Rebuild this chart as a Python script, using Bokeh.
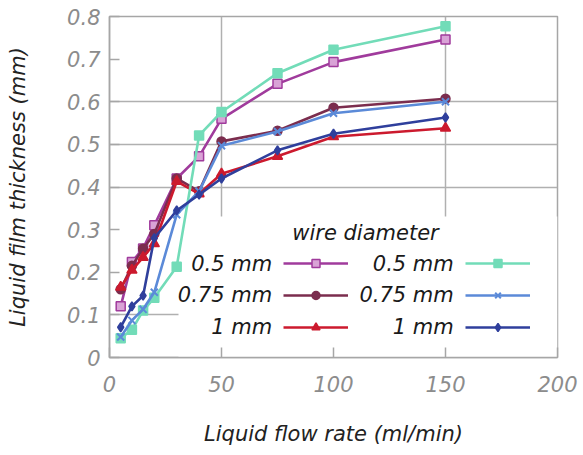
from bokeh.plotting import figure
from bokeh.models import Range1d, FixedTicker, Legend, LegendItem, Label, BoxAnnotation
from bokeh.embed import file_html
from bokeh.resources import INLINE

# ---- data ----
flow = [5, 10, 15, 20, 30, 40, 50, 75, 100, 150]
set1_05 = [0.12, 0.224, 0.256, 0.31, 0.42, 0.472, 0.56, 0.642, 0.693, 0.746]
set1_075 = [0.16, 0.215, 0.255, 0.29, 0.42, 0.39, 0.507, 0.532, 0.586, 0.607]
set1_1 = [0.165, 0.205, 0.235, 0.267, 0.413, 0.384, 0.431, 0.472, 0.518, 0.538]
set2_05 = [0.045, 0.065, 0.11, 0.14, 0.213, 0.521, 0.576, 0.667, 0.722, 0.777]
set2_075 = [0.048, 0.087, 0.113, 0.153, 0.335, 0.39, 0.497, 0.53, 0.573, 0.6]
set2_1 = [0.071, 0.12, 0.145, 0.28, 0.345, 0.382, 0.42, 0.486, 0.525, 0.563]

legend_labels = ["0.5 mm", "0.75 mm", "1 mm"]
legend_title = "wire diameter"
x_ticks = [0, 50, 100, 150, 200]
y_ticks = [0, 0.1, 0.2, 0.3, 0.4, 0.5, 0.6, 0.7, 0.8]
y_tick_labels = ["0", "0.1", "0.2", "0.3", "0.4", "0.5", "0.6", "0.7", "0.8"]

FONT = "DejaVu Sans"
GRAY = "#a6a6a6"

p = figure(width=583, height=455, output_backend="svg", toolbar_location=None,
           x_range=Range1d(0, 200), y_range=Range1d(0, 0.8),
           min_border_left=109, min_border_right=26, min_border_top=16, min_border_bottom=98)
p.background_fill_color = "white"
p.border_fill_color = "white"
p.outline_line_color = GRAY
p.outline_line_width = 1.5

# axes
for ax in (p.xaxis[0], p.yaxis[0]):
    ax.axis_line_color = GRAY
    ax.axis_line_width = 1.5
    ax.major_tick_line_color = GRAY
    ax.major_tick_line_width = 1.5
    ax.major_tick_in = 10
    ax.major_tick_out = 0
    ax.minor_tick_line_color = None
    ax.major_label_text_font = FONT
    ax.major_label_text_font_style = "italic"
    ax.major_label_text_font_size = "21px"
    ax.major_label_text_color = "#8c8c8c"
    ax.axis_label_text_font = FONT
    ax.axis_label_text_font_style = "italic"
    ax.axis_label_text_font_size = "21px"
    ax.axis_label_text_color = "#222222"

p.xaxis.ticker = FixedTicker(ticks=x_ticks)
p.yaxis.ticker = FixedTicker(ticks=y_ticks)
p.yaxis.major_label_overrides = {t: l for t, l in zip(y_ticks, y_tick_labels)}
p.xaxis.axis_label = "Liquid flow rate (ml/min)"
p.yaxis.axis_label = "Liquid film thickness (mm)"
p.xaxis.major_label_standoff = 18
p.xaxis.axis_label_standoff = 27
p.yaxis.major_label_standoff = 9
p.yaxis.axis_label_standoff = 34

# grid
p.xgrid.ticker = FixedTicker(ticks=[50, 150])
p.ygrid.ticker = FixedTicker(ticks=[0.1, 0.4, 0.5, 0.6])
p.xgrid.grid_line_color = "#b0b0b0"
p.ygrid.grid_line_color = "#b0b0b0"
p.xgrid.grid_line_width = 1.5
p.ygrid.grid_line_width = 1.5

# white panel behind legend (layout)
p.add_layout(BoxAnnotation(left=30.8, top=0.331, fill_color="white", fill_alpha=1.0,
                           line_color=None, level="underlay"))

series = [
    (set1_05, "#a03b9c", "square", "#d9a3d6", 9),
    (set1_075, "#7b2d4e", "circle", "#7b2d4e", 9),
    (set1_1, "#cc1a2e", "triangle", "#cc1a2e", 10),
    (set2_05, "#72dcb8", "square", "#72dcb8", 9),
    (set2_075, "#5b8ad8", "x", "#5b8ad8", 10),
    (set2_1, "#2f3f9c", "diamond", "#2f3f9c", 9),
]

renderers = []
for ys, col, mk, fill, sz in series:
    lr = p.line(flow, ys, line_color=col, line_width=2.6)
    sr = p.scatter(flow, ys, marker=mk, size=sz, line_color=col, fill_color=fill,
                   line_width=2 if mk == "x" else 1.5)
    renderers.append([lr, sr])

def make_legend(rs, vx):
    items = [LegendItem(label="", renderers=r) for r in rs]
    lg = Legend(items=items, location=(vx, 20), orientation="vertical",
                glyph_width=65, glyph_height=20, label_width=0, label_height=20,
                label_standoff=0, label_text_font_size="1px", spacing=12,
                padding=0, margin=0, border_line_color=None, background_fill_alpha=0)
    return lg

p.add_layout(make_legend(renderers[:3], 174), "center")
p.add_layout(make_legend(renderers[3:], 356), "center")

# legend texts (layout positions in data units)
row_y = [0.2198, 0.1455, 0.0711]
for xr in (72.6, 153.7):
    for lab, yy in zip(legend_labels, row_y):
        p.add_layout(Label(x=xr, y=yy, text=lab, text_align="right", text_baseline="middle",
                           text_font=FONT, text_font_style="italic", text_font_size="21px",
                           text_color="#1a1a1a"))
p.add_layout(Label(x=81.6, y=0.293, text=legend_title, text_align="left", text_baseline="middle",
                   text_font=FONT, text_font_style="italic", text_font_size="21px",
                   text_color="#1a1a1a"))

open("out.html", "w").write(file_html(p, INLINE))
